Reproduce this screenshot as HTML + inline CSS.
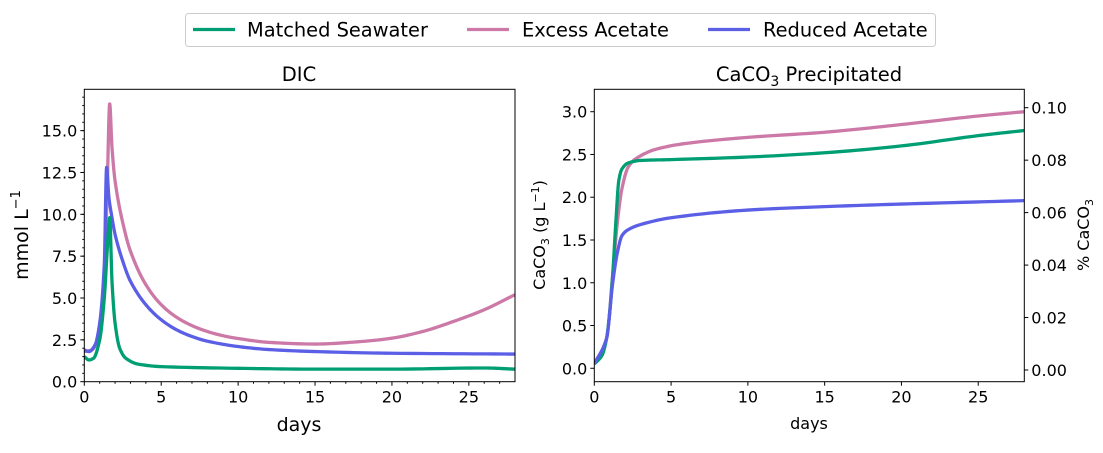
<!DOCTYPE html>
<html><head><meta charset="utf-8"><style>
body{margin:0;background:#fff;width:1103px;height:448px;overflow:hidden;font-family:"Liberation Sans","DejaVu Sans",sans-serif}
svg text{font-family:"DejaVu Sans","Liberation Sans",sans-serif;fill:#000}
</style></head><body>
<svg id="c" width="1103" height="448"></svg>
<script>
const dicX_matched=[0,0.3,0.6,1.0,1.3,1.5,1.65,1.8,2.0,2.3,2.7,3.5,5,10,15,20,26,28];
const dicY_matched=[1.5,1.3,1.4,2.5,5,8,9.8,6,3.5,2.0,1.4,1.05,0.9,0.8,0.75,0.75,0.82,0.75];
const dicX_excess=[0,0.5,1.0,1.3,1.5,1.65,1.8,2.0,2.5,3,4,5,6,7,8,9,10,12,15,18,20,22,24,26,28];
const dicY_excess=[1.8,1.9,3,6,12,16.6,14,12,9.5,7.8,5.8,4.6,3.85,3.35,3.0,2.75,2.58,2.35,2.25,2.4,2.6,3.0,3.6,4.3,5.2];
const dicX_reduced=[0,0.3,0.7,1.0,1.3,1.45,1.6,1.8,2.0,2.5,3,4,5,6,7,8,10,12,15,20,28];
const dicY_reduced=[1.9,1.8,2.2,3.5,7,12.8,11,9.8,8.8,7.2,6.0,4.6,3.7,3.1,2.7,2.42,2.1,1.92,1.8,1.7,1.65];
const caX_matched=[0,0.5,0.8,1.0,1.2,1.4,1.6,1.8,2.2,3,5,10,15,20,25,28];
const caY_matched=[0.05,0.15,0.35,0.65,1.1,1.7,2.2,2.33,2.4,2.43,2.44,2.47,2.52,2.6,2.72,2.78];
const caX_excess=[0,0.8,1.2,1.5,1.8,2.2,2.7,4,6,10,15,20,25,28];
const caY_excess=[0.05,0.35,1.1,1.7,2.1,2.35,2.45,2.56,2.63,2.7,2.76,2.85,2.95,3.0];
const caX_reduced=[0,0.8,1.2,1.5,1.8,2.2,3,5,10,15,20,28];
const caY_reduced=[0.05,0.35,1.0,1.35,1.55,1.62,1.68,1.76,1.85,1.89,1.92,1.96];
const xTicks=[0,5,10,15,20,25];
const dicTicks=[0,2.5,5,7.5,10,12.5,15];
const caTicks=[0,0.5,1,1.5,2,2.5,3];
const pctTicks=[0,0.02,0.04,0.06,0.08,0.10];

const NS="http://www.w3.org/2000/svg",svg=document.getElementById('c');
function el(t,a,p){const e=document.createElementNS(NS,t);for(const k in a)e.setAttribute(k,a[k]);(p||svg).appendChild(e);return e;}
const C={m:'#009e73',e:'#cc79a7',r:'#5a5fe6'};
function mono(xs,ys){const n=xs.length,d=[],m=[];for(let i=0;i<n-1;i++)d.push((ys[i+1]-ys[i])/(xs[i+1]-xs[i]));
m[0]=d[0];m[n-1]=d[n-2];for(let i=1;i<n-1;i++)m[i]=(d[i-1]*d[i]<=0)?0:(2/(1/d[i-1]+1/d[i]));
let path=[];for(let i=0;i<n-1;i++){const h=xs[i+1]-xs[i];for(let k=0;k<12;k++){const t=k/12,h00=2*t*t*t-3*t*t+1,h10=t*t*t-2*t*t+t,h01=-2*t*t*t+3*t*t,h11=t*t*t-t*t;
path.push([xs[i]+t*h,h00*ys[i]+h10*h*m[i]+h01*ys[i+1]+h11*h*m[i+1]]);}}path.push([xs[n-1],ys[n-1]]);return path;}
function axes(L,T,R,B,xmin,xmax,ymin,ymax,name){
 const sx=v=>L+(v-xmin)/(xmax-xmin)*(R-L),sy=v=>B-(v-ymin)/(ymax-ymin)*(B-T);
 return {sx,sy,L,T,R,B,name};}
function line(ax,xs,ys,col,name){const pts=mono(xs,ys).map(p=>ax.sx(p[0]).toFixed(2)+','+ax.sy(p[1]).toFixed(2)).join(' ');
 const p=el('polyline',{points:pts,fill:'none',stroke:col,'stroke-width':3.3,'stroke-linejoin':'round','clip-path':'url(#'+ax.name+'clip)'});
 }
function frame(ax){const d=el('clipPath',{id:ax.name+'clip'});el('rect',{x:ax.L,y:ax.T,width:ax.R-ax.L,height:ax.B-ax.T},d);}
function box(ax){const r=el('rect',{x:ax.L,y:ax.T,width:ax.R-ax.L,height:ax.B-ax.T,fill:'none',stroke:'#000','stroke-width':1});
 }
function xt(ax,fs){xTicks.forEach(v=>{const x=ax.sx(v);el('line',{x1:x,x2:x,y1:ax.B,y2:ax.B+4,stroke:'#000'});
 const t=el('text',{x:x,y:ax.B+21,'font-size':fs,'text-anchor':'middle'});t.textContent=v;
 });}
function yt(ax,ticks,fmt,side,scale){ticks.forEach(v=>{const y=scale(v);const x=side<0?ax.L:ax.R;
 el('line',{x1:x,x2:x+side*4,y1:y,y2:y,stroke:'#000'});
 const t=el('text',{x:x+side*7,y:y+6,'font-size':16,'text-anchor':side<0?'end':'start'});t.textContent=fmt(v);
 });}

// Left
const A=axes(84.3,89.3,515,381.7,0,28,0,17.47,'dic');frame(A);
line(A,dicX_excess,dicY_excess,C.e,'dic-excess-line');
line(A,dicX_reduced,dicY_reduced,C.r,'dic-reduced-line');
line(A,dicX_matched,dicY_matched,C.m,'dic-matched-line');
box(A);xt(A,16);
for(let v=1;v<28;v++)if(v%5)el('line',{x1:A.sx(v),x2:A.sx(v),y1:A.B,y2:A.B+2,stroke:'#000'});
for(let v=0.5;v<17.4;v+=0.5)el('line',{x1:A.L,x2:A.L-2,y1:A.sy(v),y2:A.sy(v),stroke:'#000'});
yt(A,dicTicks,v=>v.toFixed(1),-1,A.sy);
let t;
t=el('text',{x:299,y:81,'font-size':19.5,'text-anchor':'middle'});t.textContent='DIC';
t=el('text',{x:299,y:431,'font-size':19,'text-anchor':'middle'});t.textContent='days';
t=el('text',{transform:'translate(28,235) rotate(-90)','font-size':19,'text-anchor':'middle'});t.innerHTML='mmol L<tspan dy="-8" font-size="13">−1</tspan>';

// Right
const B=axes(594.3,89.3,1024.3,381.7,0,28,-0.157,3.262,'ca');frame(B);
line(B,caX_excess,caY_excess,C.e,'caco3-excess-line');
line(B,caX_matched,caY_matched,C.m,'caco3-matched-line');
line(B,caX_reduced,caY_reduced,C.r,'caco3-reduced-line');
box(B);xt(B,16);
yt(B,caTicks,v=>v.toFixed(1),-1,B.sy);
const sp=v=>370-v/0.1*262.3;
yt(B,pctTicks,v=>v.toFixed(2),1,sp);
t=el('text',{x:809,y:81,'font-size':19.5,'text-anchor':'middle'});t.innerHTML='CaCO<tspan dy="5" font-size="14">3</tspan><tspan dy="-5"> Precipitated</tspan>';
t=el('text',{x:809,y:429,'font-size':16,'text-anchor':'middle'});t.textContent='days';
t=el('text',{transform:'translate(545,235) rotate(-90)','font-size':16,'text-anchor':'middle'});t.innerHTML='CaCO<tspan dy="4" font-size="11">3</tspan><tspan dy="-4"> (g L</tspan><tspan dy="-6" font-size="11">−1</tspan><tspan dy="6">)</tspan>';
t=el('text',{transform:'translate(1089,235) rotate(-90)','font-size':16,'text-anchor':'middle'});t.innerHTML='% CaCO<tspan dy="4" font-size="11">3</tspan>';

// Legend
const lg=el('g',{});
el('rect',{x:185.5,y:13.5,width:750,height:33,rx:3,fill:'#fff',stroke:'#ccc'},lg);
[[193,247,C.m,'Matched Seawater'],[467,522,C.e,'Excess Acetate'],[708,763,C.r,'Reduced Acetate']].forEach(a=>{
 const g=el('g',{},lg);
 el('line',{x1:a[0],x2:a[0]+42,y1:29.5,y2:29.5,stroke:a[2],'stroke-width':3.3},g);
 const tx=el('text',{x:a[1],y:36.5,'font-size':19.4},g);tx.textContent=a[3];});
</script>
</body></html>
